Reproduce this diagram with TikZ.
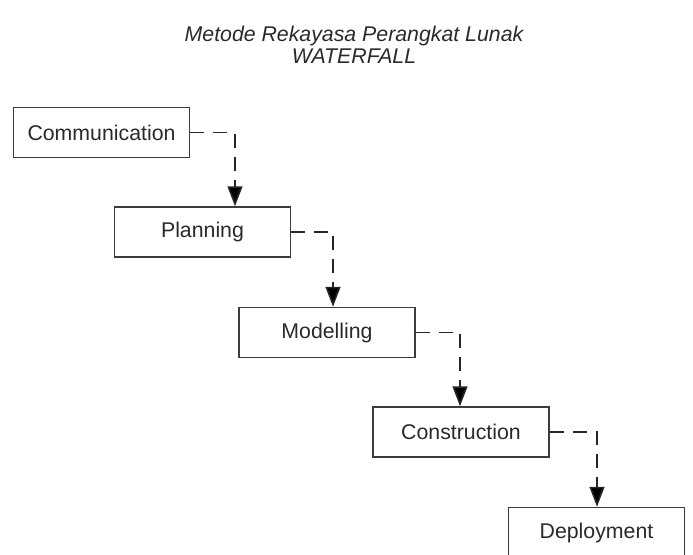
\documentclass[tikz,border=0pt]{standalone}
\usepackage{fontspec}
\setmainfont{Liberation Sans}
\usetikzlibrary{arrows.meta}
\definecolor{edge}{HTML}{3C3C3C}
\definecolor{ink}{HTML}{2A2A2A}
\tikzset{
  phase/.style={draw=edge, line width=1.5pt, fill=white, minimum width=176pt,
    minimum height=50pt, inner sep=0pt, text=ink, font=\fontsize{21.3}{24}\selectfont},
  flow/.style={draw=black!85, line width=1.6pt, dash pattern=on 14pt off 9pt,
    -{Triangle[length=20pt, width=15pt, fill=black]}},
  heading/.style={text=ink, align=center, font=\fontsize{21.3}{21.5}\selectfont\itshape}
}
\begin{document}
\begin{tikzpicture}[x=1pt, y=-1pt]
  \useasboundingbox (0,0) rectangle (693,554);
  \node[heading] (title) at (354,45) {Metode Rekayasa Perangkat Lunak\\WATERFALL};

  \node[phase] (comm)  at (101.5,132.5) {Communication};
  \node[phase] (plan)  at (202.5,232)   {Planning};
  \node[phase] (model) at (327,332.5)   {Modelling};
  \node[phase] (cons)  at (461,432)     {Construction};
  \node[phase] (dep)   at (596.5,532.5) {Deployment};

  % drop points where each connector turns downward
  \coordinate (c1) at (235,0);
  \coordinate (c2) at (333,0);
  \coordinate (c3) at (460,0);
  \coordinate (c4) at (597,0);

  \draw[flow] (comm.east)  -| (c1 |- plan.north);
  \draw[flow] (plan.east)  -| (c2 |- model.north);
  \draw[flow] (model.east) -| (c3 |- cons.north);
  \draw[flow] (cons.east)  -| (c4 |- dep.north);
\end{tikzpicture}
\end{document}
